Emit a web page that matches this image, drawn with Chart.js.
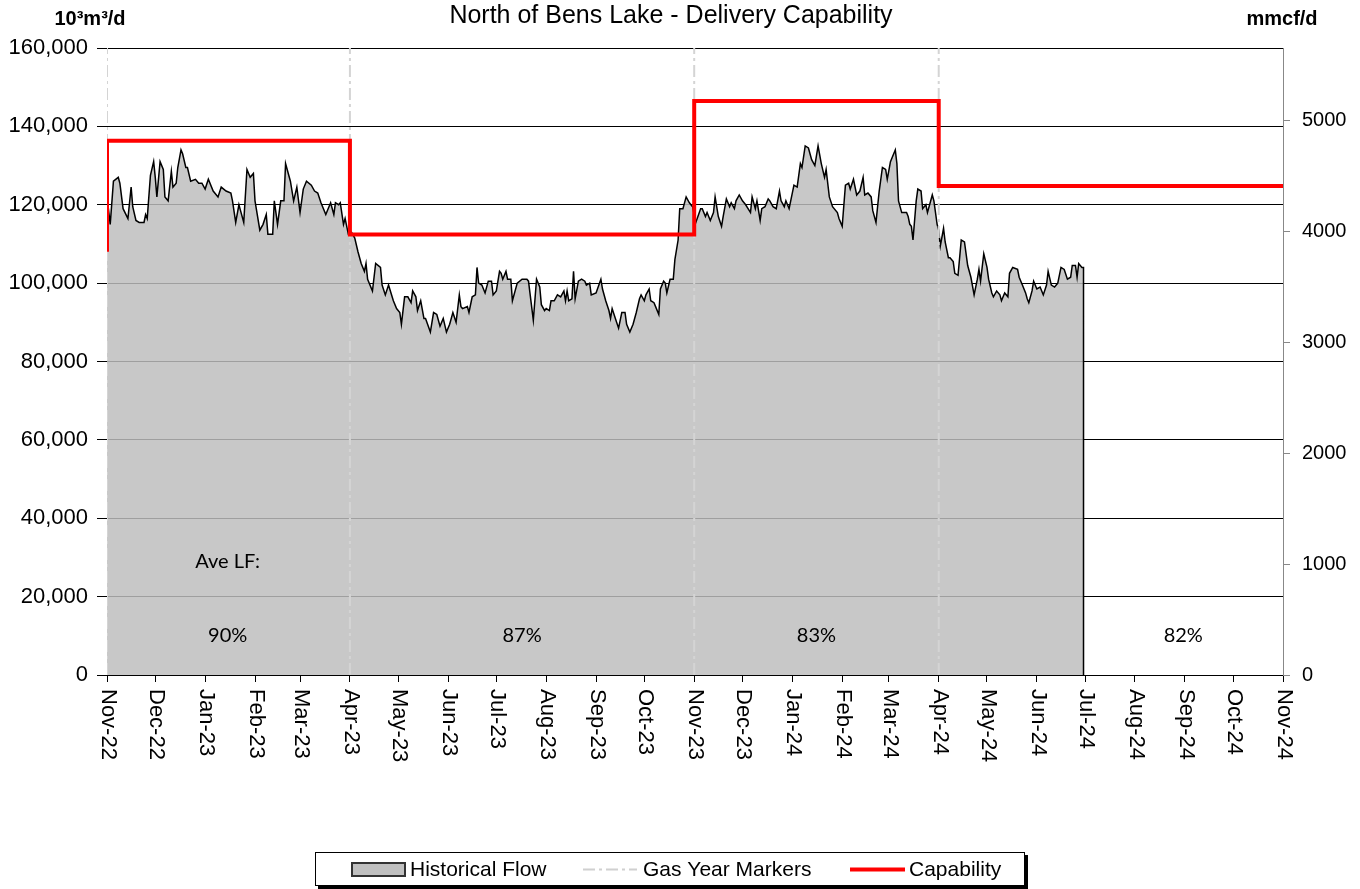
<!DOCTYPE html>
<html>
<head>
<meta charset="utf-8">
<script src="https://cdn.jsdelivr.net/npm/chart.js@4.4.1/dist/chart.umd.min.js"></script>
<style>
  body { margin: 0; background: #fff; }
</style>
</head>
<body>
<canvas id="grafico-bens" width="1360" height="889"></canvas>
<script>
// Dias contados desde el 1 de noviembre de 2022
var monthDays = [0, 30, 61, 92, 120, 151, 181, 212, 242, 273, 304, 334, 365,
                 395, 426, 457, 486, 517, 547, 578, 608, 639, 670, 700, 731];
var monthLabels = ['Nov-22', 'Dec-22', 'Jan-23', 'Feb-23', 'Mar-23', 'Apr-23', 'May-23',
                   'Jun-23', 'Jul-23', 'Aug-23', 'Sep-23', 'Oct-23', 'Nov-23', 'Dec-23',
                   'Jan-24', 'Feb-24', 'Mar-24', 'Apr-24', 'May-24', 'Jun-24', 'Jul-24',
                   'Aug-24', 'Sep-24', 'Oct-24', 'Nov-24'];

// Flujo historico (10^3 m3/d)
var flowDays = [0, 2, 4, 7, 8, 10, 13, 15, 16, 18, 20, 23, 24, 25, 27, 29, 30, 31, 33, 35,
  36, 38, 40, 41, 43, 44, 46, 47, 49, 50, 52, 55, 57, 59, 61, 63, 66, 69, 71, 74,
  77, 78, 80, 82, 83, 85, 87, 89, 91, 92, 95, 97, 99, 100, 103, 104, 106, 108, 110, 111,
  114, 116, 118, 120, 122, 124, 127, 129, 131, 133, 136, 139, 141, 142, 144, 145, 147, 148, 150, 152,
  154, 156, 158, 160, 161, 162, 165, 167, 170, 171, 173, 175, 178, 180, 182, 183, 185, 187, 189, 190,
  192, 193, 195, 197, 198, 201, 203, 205, 207, 209, 211, 213, 215, 217, 219, 220, 221, 224, 225, 227,
  229, 230, 231, 233, 235, 237, 239, 240, 242, 244, 245, 246, 248, 249, 251, 252, 255, 258, 261, 262,
  265, 267, 269, 270, 272, 273, 275, 276, 278, 280, 282, 284, 285, 286, 287, 289, 290, 291, 293, 295,
  297, 298, 300, 301, 304, 307, 308, 310, 312, 313, 314, 316, 318, 320, 322, 323, 325, 327, 329, 331,
  332, 334, 335, 337, 338, 340, 341, 343, 344, 346, 347, 348, 350, 352, 353, 355, 356, 358, 360, 362,
  364, 366, 369, 370, 372, 373, 375, 377, 378, 380, 382, 383, 385, 387, 388, 390, 391, 393, 395, 397,
  400, 401, 403, 404, 406, 407, 409, 411, 412, 414, 416, 418, 419, 421, 422, 424, 427, 429, 431, 432,
  434, 436, 438, 440, 442, 444, 446, 447, 449, 451, 454, 455, 457, 459, 461, 462, 464, 466, 468, 470,
  471, 473, 475, 476, 478, 480, 482, 484, 485, 487, 488, 490, 491, 492, 494, 497, 498, 499, 500, 501,
  503, 504, 506, 507, 509, 510, 513, 514, 516, 517, 518, 520, 521, 523, 524, 526, 527, 529, 531, 533,
  535, 537, 539, 541, 542, 543, 545, 547, 548, 550, 551, 553, 555, 556, 558, 560, 561, 563, 566, 567,
  569, 571, 572, 573, 575, 576, 578, 580, 582, 584, 585, 587, 589, 591, 593, 595, 597, 599, 600, 602,
  603, 604, 606, 607];
var flowValues = [122000, 115000, 126000, 127000, 125500, 119000, 116500, 124500, 119500, 116000,
  115500, 115500, 117500, 116500, 127500, 131000, 127000, 122000, 131000, 129000,
  122000, 121000, 128500, 124500, 125500, 129500, 134000, 133000, 129500, 129500,
  126000, 126500, 125500, 125500, 124000, 126500, 123500, 122000, 124500, 123500,
  123000, 121000, 115500, 120000, 118500, 115500, 129000, 127000, 128000, 121000,
  113500, 115000, 117500, 112500, 112500, 121000, 115000, 121000, 121000, 130500,
  126000, 121000, 124500, 118000, 124000, 126000, 125000, 123500, 123000, 120500,
  117500, 120500, 117500, 120500, 120000, 120500, 115000, 116500, 112500, 113000,
  111500, 108000, 105000, 103000, 105000, 101000, 98000, 105000, 104000, 99500,
  97000, 99500, 95500, 93500, 92500, 89500, 96500, 96500, 95000, 98000,
  96500, 93000, 95500, 91000, 91000, 87500, 92500, 92000, 89000, 91000,
  87500, 89500, 92500, 90000, 97000, 94000, 93500, 94000, 92500, 96500,
  97000, 104000, 100000, 99500, 97500, 100500, 100500, 97000, 98000, 103000,
  102500, 101000, 103000, 101000, 101000, 95500, 100000, 101000, 101000, 100500,
  90500, 101000, 99000, 94500, 93000, 93500, 93000, 95500, 95500, 97000,
  96500, 98000, 95500, 98000, 95500, 96000, 103000, 96000, 100500, 101000,
  100500, 99500, 100000, 97000, 97500, 101000, 98500, 95500, 93000, 91000,
  93500, 91000, 88500, 92500, 92500, 89500, 87500, 89500, 92500, 96000,
  97000, 95500, 97000, 98500, 95500, 95000, 94000, 92000, 98500, 100500,
  100000, 97500, 101000, 101000, 106000, 111000, 119000, 119000, 122000, 120500,
  119500, 115500, 119000, 119000, 117000, 118000, 116000, 118000, 122000, 117000,
  114500, 117000, 121500, 119500, 120500, 119000, 121000, 122500, 121000, 120000,
  118000, 122000, 119000, 121000, 116000, 119000, 119500, 121500, 121000, 119500,
  119000, 123500, 121000, 119500, 121000, 119000, 125000, 124500, 130500, 129500,
  135000, 134500, 131500, 130000, 135000, 130500, 127000, 129000, 122000, 119500,
  118000, 116500, 114500, 125000, 125500, 124000, 126500, 122500, 123500, 127000,
  122500, 123000, 122000, 118500, 115500, 123500, 129500, 129000, 126500, 131000,
  132000, 134000, 130500, 121000, 118000, 118000, 117000, 115000, 114500, 111000,
  121000, 124000, 123500, 119000, 120000, 118000, 122500, 121000, 115000, 113500,
  109500, 114000, 110500, 106500, 106500, 105500, 102500, 102000, 111000, 110500,
  104500, 101500, 97000, 101000, 103500, 100500, 107500, 104000, 101000, 97500,
  96500, 98000, 97000, 95500, 97500, 96500, 102500, 104000, 103500, 101500,
  99500, 97500, 96000, 95000, 98000, 100500, 98500, 99000, 97000, 99500,
  103000, 99500, 99000, 100000, 104000, 103500, 101000, 101500, 104500, 104500,
  101500, 105000, 104000, 104000];

// Capacidad de entrega (escalones)
var capDays = [0, 0, 151, 365, 517, 731];
var capValues = [108000, 136300, 112400, 146500, 124800, 124800];

// Marcadores de año gasifero
var markerDays = [0, 151, 365, 517];

// Factor de carga promedio por periodo
var lfDays = [75, 258, 441, 669];
var lfLabels = ['90%', '87%', '83%', '82%'];

var leftTicks = [0, 20000, 40000, 60000, 80000, 100000, 120000, 140000, 160000];
var rightTicks = [0, 1000, 2000, 3000, 4000, 5000];
var mmcfPorMil = 0.0353147; // 10^3 m3 -> mmcf
var yMax = 160000;

Chart.defaults.font.family = "'Liberation Sans', Arial, sans-serif";
Chart.defaults.color = '#000';

var flujo = [];
for (var i = 0; i < flowDays.length; i++) {
  flujo.push({ x: flowDays[i], y: flowValues[i] });
}
// cierre vertical del area al final del historico
flujo.push({ x: flowDays[flowDays.length - 1], y: 0 });

var capacidad = [];
for (var i = 0; i < capDays.length; i++) {
  capacidad.push({ x: capDays[i], y: capValues[i] });
}

var marcas = [];
for (var i = 0; i < markerDays.length; i++) {
  marcas.push({ x: markerDays[i], y: 0 });
  marcas.push({ x: markerDays[i], y: yMax });
  marcas.push({ x: markerDays[i], y: null });
}

var textos = {
  id: 'textos',
  afterDraw: function(chart) {
    var ctx = chart.ctx;
    var sx = chart.scales.x;
    var sy = chart.scales.y;
    ctx.save();
    ctx.fillStyle = '#000';

    // titulo y unidades
    ctx.font = "25px 'Liberation Sans', Arial";
    ctx.textAlign = 'center';
    ctx.textBaseline = 'middle';
    ctx.fillText('North of Bens Lake - Delivery Capability', 671, 16);
    ctx.font = "bold 20px 'Liberation Sans', Arial";
    ctx.fillText('10\u00b3m\u00b3/d', 90, 19);
    ctx.fillText('mmcf/d', 1282, 19);

    // etiquetas de meses giradas
    ctx.font = "22px 'Liberation Sans', Arial";
    ctx.textAlign = 'left';
    for (var i = 0; i < monthDays.length; i++) {
      ctx.save();
      ctx.translate(sx.getPixelForValue(monthDays[i]), 689);
      ctx.rotate(Math.PI / 2);
      ctx.fillText(monthLabels[i], 0, -1);
      ctx.restore();
    }

    // factores de carga
    ctx.textAlign = 'center';
    ctx.font = "20px Lato, 'Open Sans', sans-serif";
    ctx.fillText('Ave LF:', sx.getPixelForValue(lfDays[0]), sy.getPixelForValue(29000));
    for (var i = 0; i < lfDays.length; i++) {
      ctx.fillText(lfLabels[i], sx.getPixelForValue(lfDays[i]), sy.getPixelForValue(10000));
    }

    // leyenda
    ctx.fillStyle = '#000';
    ctx.fillRect(318, 855, 710, 34);
    ctx.fillStyle = '#fff';
    ctx.fillRect(315, 852, 710, 34);
    ctx.strokeStyle = '#000';
    ctx.lineWidth = 1;
    ctx.strokeRect(315.5, 852.5, 709, 33);

    ctx.fillStyle = '#c0c0c0';
    ctx.fillRect(352, 863, 53, 13);
    ctx.strokeStyle = '#333';
    ctx.lineWidth = 2;
    ctx.strokeRect(352, 863, 53, 13);

    ctx.strokeStyle = '#d0d0d0';
    ctx.lineWidth = 2;
    ctx.setLineDash([12, 4, 3, 4]);
    ctx.beginPath();
    ctx.moveTo(583, 869.5);
    ctx.lineTo(637, 869.5);
    ctx.stroke();
    ctx.setLineDash([]);

    ctx.strokeStyle = '#ff0000';
    ctx.lineWidth = 4;
    ctx.beginPath();
    ctx.moveTo(850, 869.5);
    ctx.lineTo(905, 869.5);
    ctx.stroke();

    ctx.fillStyle = '#000';
    ctx.font = "21px 'Liberation Sans', Arial";
    ctx.textAlign = 'left';
    ctx.fillText('Historical Flow', 410, 870);
    ctx.fillText('Gas Year Markers', 643, 870);
    ctx.fillText('Capability', 909, 870);
    ctx.restore();
  }
};

var config = {
  type: 'line',
  data: {
    datasets: [{
      label: 'Capability',
      data: capacidad,
      borderColor: '#ff0000',
      borderWidth: 4,
      stepped: 'before',
      fill: false,
      borderJoinStyle: 'miter'
    }, {
      label: 'Gas Year Markers',
      data: marcas,
      borderColor: '#d4d4d4',
      borderWidth: 2,
      borderDash: [12, 4, 3, 4],
      spanGaps: false,
      fill: false
    }, {
      label: 'Historical Flow',
      data: flujo,
      borderColor: '#000',
      borderWidth: 1.5,
      backgroundColor: 'rgba(190, 190, 190, 0.84)',
      fill: 'origin'
    }]
  },
  options: {
    responsive: false,
    animation: false,
    events: [],
    layout: { padding: { top: 48, left: 0, right: 0, bottom: 0 } },
    elements: { point: { radius: 0 }, line: { tension: 0 } },
    plugins: {
      legend: { display: false },
      tooltip: { enabled: false }
    },
    scales: {
      x: {
        type: 'linear',
        min: 0,
        max: 731,
        afterBuildTicks: function(scale) {
          scale.ticks = monthDays.map(function(d) { return { value: d }; });
        },
        afterFit: function(scale) { scale.height = 214; },
        ticks: { display: false },
        grid: { drawOnChartArea: false, tickLength: 7, tickColor: '#000' },
        border: { color: '#000', width: 1 }
      },
      y: {
        position: 'left',
        min: 0,
        max: yMax,
        afterBuildTicks: function(scale) {
          scale.ticks = leftTicks.map(function(v) { return { value: v }; });
        },
        afterFit: function(scale) { scale.width = 107; },
        ticks: {
          font: { size: 22 },
          color: '#000',
          padding: 9,
          callback: function(v) { return v.toLocaleString('en-US'); }
        },
        grid: { color: '#000', lineWidth: 1, tickLength: 10 },
        border: { display: false }
      },
      y2: {
        position: 'right',
        min: 0,
        max: yMax * mmcfPorMil,
        afterBuildTicks: function(scale) {
          scale.ticks = rightTicks.map(function(v) { return { value: v }; });
        },
        afterFit: function(scale) { scale.width = 77; },
        ticks: {
          font: { size: 20 },
          color: '#000',
          padding: 12,
          callback: function(v) { return String(v); }
        },
        grid: { drawOnChartArea: false, tickLength: 7, tickColor: '#888' },
        border: { color: '#888', width: 1 }
      }
    }
  },
  plugins: [textos]
};

var ctx = document.getElementById('grafico-bens');
window.graficoBens = new Chart(ctx, config);
</script>
</body>
</html>
